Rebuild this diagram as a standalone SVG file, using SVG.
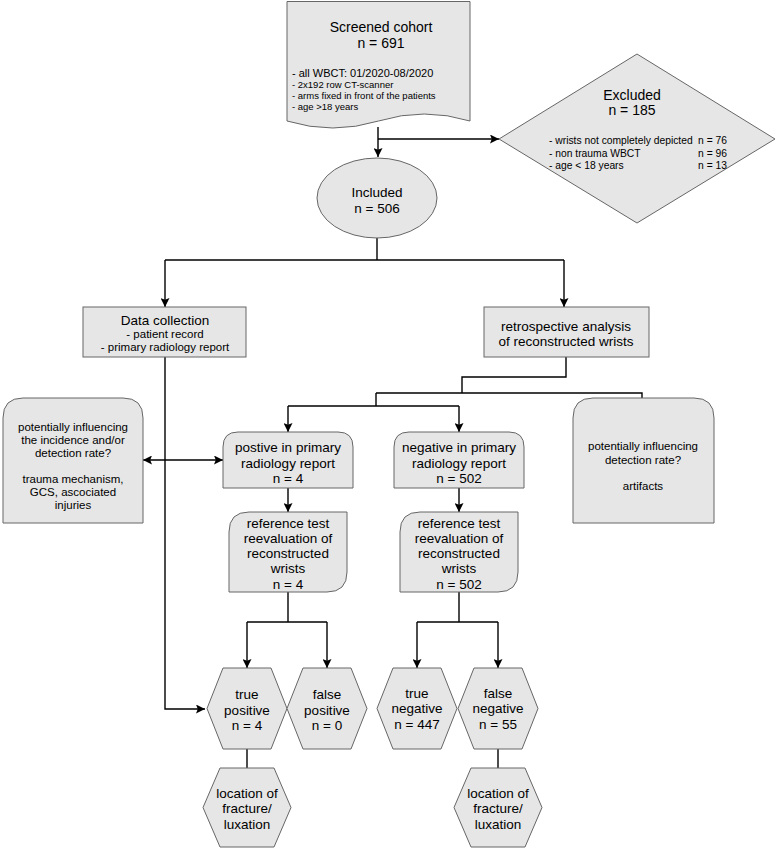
<svg xmlns="http://www.w3.org/2000/svg" width="777" height="850" viewBox="0 0 777 850">
<style>
.n{fill:#e6e6e6;stroke:#666;stroke-width:1}
.c{fill:none;stroke:#000;stroke-width:1.4}
text{font-family:"Liberation Sans",Arial,Helvetica,sans-serif;fill:#000}
.t14{font-size:14px;text-anchor:middle}
.t13{font-size:13.5px;text-anchor:middle}
.t11{font-size:11.5px;text-anchor:middle}
.l10{font-size:10.3px}
.r10{font-size:10.3px;text-anchor:end}
</style>
<defs>
<marker id="ah" viewBox="0 0 10 10" refX="10" refY="5" markerWidth="9" markerHeight="9" markerUnits="userSpaceOnUse" orient="auto">
<path d="M0,0 L10,5 L0,10 L2,5 z" fill="#000"/>
</marker>
<marker id="as" viewBox="0 0 10 10" refX="0" refY="5" markerWidth="9" markerHeight="9" markerUnits="userSpaceOnUse" orient="auto">
<path d="M10,0 L0,5 L10,10 L8,5 z" fill="#000"/>
</marker>
</defs>
<g id="connectors">
<path class="c" d="M378,127 V157" marker-end="url(#ah)"/>
<path class="c" d="M378,139 H499" marker-end="url(#ah)"/>
<path class="c" d="M377,238 V260"/>
<path class="c" d="M165,260 H564"/>
<path class="c" d="M165,260 V307" marker-end="url(#ah)"/>
<path class="c" d="M564,260 V307" marker-end="url(#ah)"/>
<path class="c" d="M165,357 V709 H205" marker-end="url(#ah)"/>
<path class="c" d="M566,357 V377 H462 V393"/>
<path class="c" d="M376,393 H642 V398"/>
<path class="c" d="M376,393 V406"/>
<path class="c" d="M288,406 H459"/>
<path class="c" d="M288,406 V432" marker-end="url(#ah)"/>
<path class="c" d="M459,406 V432" marker-end="url(#ah)"/>
<path class="c" d="M143,460 H223" marker-start="url(#as)" marker-end="url(#ah)"/>
<path class="c" d="M288,488 V512" marker-end="url(#ah)"/>
<path class="c" d="M459,488 V512" marker-end="url(#ah)"/>
<path class="c" d="M288,592 V622"/>
<path class="c" d="M247,622 H327"/>
<path class="c" d="M247,622 V668" marker-end="url(#ah)"/>
<path class="c" d="M327,622 V668" marker-end="url(#ah)"/>
<path class="c" d="M459,592 V622"/>
<path class="c" d="M417,622 H498"/>
<path class="c" d="M417,622 V668" marker-end="url(#ah)"/>
<path class="c" d="M498,622 V668" marker-end="url(#ah)"/>
<path class="c" d="M247,749 V768"/>
<path class="c" d="M498,749 V768"/>
</g>
<g id="screened">
<path class="n" d="M287,1.5 H470 V121 Q424.25,107 378.5,121 Q332.75,135 287,121 Z"/>
<text class="t14" x="381" y="32">Screened cohort</text>
<text class="t14" x="381" y="48">n = 691</text>
<text x="292" y="77" font-size="11">- all WBCT: 01/2020-08/2020</text>
<text x="292" y="87.5" font-size="9.5">- 2x192 row CT-scanner</text>
<text x="292" y="98.5" font-size="9.5">- arms fixed in front of the patients</text>
<text x="292" y="109.5" font-size="9.5">- age &gt;18 years</text>
</g>
<g id="excluded">
<polygon class="n" points="637,54 775,139 637,223 499,139"/>
<text class="t14" x="632" y="100">Excluded</text>
<text class="t14" x="632" y="115">n = 185</text>
<text class="l10" x="549" y="143.5">- wrists not completely depicted</text>
<text class="l10" x="549" y="156.5">- non trauma WBCT</text>
<text class="l10" x="549" y="168.5">- age &lt; 18 years</text>
<text class="r10" x="727" y="143.5">n = 76</text>
<text class="r10" x="727" y="156.5">n = 96</text>
<text class="r10" x="727" y="168.5">n = 13</text>
</g>
<g id="included">
<ellipse class="n" cx="377" cy="198" rx="60" ry="40"/>
<text class="t13" x="377" y="197">Included</text>
<text class="t13" x="377" y="213">n = 506</text>
</g>
<g id="data-collection">
<rect class="n" x="83" y="307" width="163" height="50"/>
<text class="t13" x="165" y="325">Data collection</text>
<text class="t11" x="165" y="338">- patient record</text>
<text class="t11" x="165" y="351">- primary radiology report</text>
</g>
<g id="retrospective">
<rect class="n" x="484" y="307" width="165" height="50"/>
<text class="t13" x="566" y="331">retrospective analysis</text>
<text class="t13" x="566" y="346">of reconstructed wrists</text>
</g>
<g id="influence-left">
<path class="n" d="M3,523 V418 Q3,398 23,398 H123 Q143,398 143,418 V523 Z"/>
<text class="t11" x="73" y="431">potentially influencing</text>
<text class="t11" x="73" y="444">the incidence and/or</text>
<text class="t11" x="73" y="457">detection rate?</text>
<text class="t11" x="73" y="483">trauma mechanism,</text>
<text class="t11" x="73" y="496">GCS, ascociated</text>
<text class="t11" x="73" y="509">injuries</text>
</g>
<g id="influence-right">
<path class="n" d="M573,523 V418 Q573,398 593,398 H694 Q714,398 714,418 V523 Z"/>
<text class="t11" x="643" y="450">potentially influencing</text>
<text class="t11" x="643" y="464">detection rate?</text>
<text class="t11" x="643" y="490">artifacts</text>
</g>
<g id="positive">
<path class="n" d="M223,488 V447 Q223,432 238,432 H338 Q353,432 353,447 V488 Z"/>
<text class="t13" x="288" y="452">postive in primary</text>
<text class="t13" x="288" y="468">radiology report</text>
<text class="t13" x="288" y="483">n = 4</text>
</g>
<g id="negative">
<path class="n" d="M394,488 V447 Q394,432 409,432 H509 Q524,432 524,447 V488 Z"/>
<text class="t13" x="459" y="452">negative in primary</text>
<text class="t13" x="459" y="468">radiology report</text>
<text class="t13" x="459" y="483">n = 502</text>
</g>
<g id="reference-positive">
<path class="n" d="M229,592 V532 Q229,512 249,512 H347 V572 Q347,592 327,592 Z"/>
<text class="t13" x="288" y="527.5">reference test</text>
<text class="t13" x="288" y="542.5">reevaluation of</text>
<text class="t13" x="288" y="557.5">reconstructed</text>
<text class="t13" x="288" y="573">wrists</text>
<text class="t13" x="288" y="588.5">n = 4</text>
</g>
<g id="reference-negative">
<path class="n" d="M400,592 V532 Q400,512 420,512 H518 V572 Q518,592 498,592 Z"/>
<text class="t13" x="459" y="527.5">reference test</text>
<text class="t13" x="459" y="542.5">reevaluation of</text>
<text class="t13" x="459" y="557.5">reconstructed</text>
<text class="t13" x="459" y="573">wrists</text>
<text class="t13" x="459" y="588.5">n = 502</text>
</g>
<g id="true-positive">
<polygon class="n" points="207,708.5 223,668 271,668 287,708.5 271,749 223,749"/>
<text class="t13" x="247" y="698.5">true</text>
<text class="t13" x="247" y="714.5">positive</text>
<text class="t13" x="247" y="729.5">n = 4</text>
</g>
<g id="false-positive">
<polygon class="n" points="287,708.5 303,668 351,668 367,708.5 351,749 303,749"/>
<text class="t13" x="327" y="698.5">false</text>
<text class="t13" x="327" y="714.5">positive</text>
<text class="t13" x="327" y="729.5">n = 0</text>
</g>
<g id="true-negative">
<polygon class="n" points="377,708.5 393,668 441,668 457,708.5 441,749 393,749"/>
<text class="t13" x="417" y="697.5">true</text>
<text class="t13" x="417" y="713">negative</text>
<text class="t13" x="417" y="728.5">n = 447</text>
</g>
<g id="false-negative">
<polygon class="n" points="458,708.5 474,668 522,668 538,708.5 522,749 474,749"/>
<text class="t13" x="498" y="697.5">false</text>
<text class="t13" x="498" y="713">negative</text>
<text class="t13" x="498" y="728.5">n = 55</text>
</g>
<g id="location-positive">
<polygon class="n" points="203,807.5 220,768 274,768 291,807.5 274,847 220,847"/>
<text class="t13" x="247" y="797.5">location of</text>
<text class="t13" x="247" y="812.5">fracture/</text>
<text class="t13" x="247" y="828.5">luxation</text>
</g>
<g id="location-negative">
<polygon class="n" points="454,807.5 471,768 525,768 542,807.5 525,847 471,847"/>
<text class="t13" x="498" y="797.5">location of</text>
<text class="t13" x="498" y="812.5">fracture/</text>
<text class="t13" x="498" y="828.5">luxation</text>
</g>
</svg>
